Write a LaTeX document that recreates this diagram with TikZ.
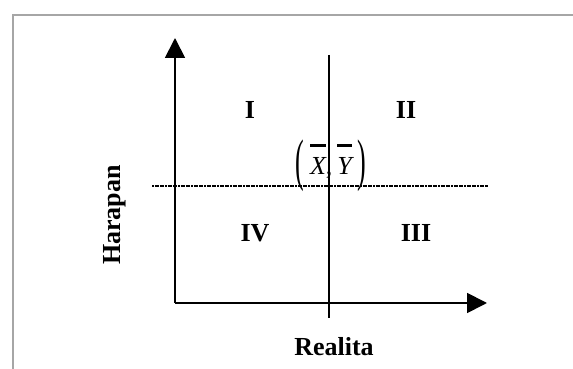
\documentclass[tikz,border=0pt]{standalone}
\usepackage{fontspec}
\usepackage{graphicx}
\setmainfont{Liberation Serif}
\usetikzlibrary{arrows.meta}
\newcommand\mybar[1]{\vbox{\hrule height 2.6pt\kern 11pt\hbox{#1}}}
\newcommand\tallparen[1]{\raisebox{-4.5pt}{\scalebox{1}[2.2]{#1}}}
\begin{document}
\begin{tikzpicture}[x=1pt,y=1pt,
  lbl/.style={font=\fontsize{26}{30}\selectfont\bfseries, inner sep=0pt},
  mlbl/.style={font=\fontsize{26}{30}\selectfont, inner sep=0pt},
  axis/.style={line width=1.8pt, -{Triangle[length=20pt,width=20pt]}},
  mid/.style={line width=1.2pt},
  dotline/.style={line width=2pt, dash pattern=on 2pt off 0.6pt}]
\useasboundingbox (0,0) rectangle (573,369);
\fill[white] (0,0) rectangle (573,369);
% frame
\draw[gray!70, line width=1.8pt] (13,0) -- (13,353.6) -- (573,353.6);
% axes
\coordinate (O) at (175,66);
\coordinate (ytip) at (175,331);
\coordinate (xtip) at (487,66);
\draw[axis] (O) -- (ytip);
\draw[axis] (O) -- (xtip);
% mean lines
\coordinate (vtop) at (329,314);
\coordinate (vbot) at (329,51);
\draw[mid] (vtop) -- (vbot);
\coordinate (hl) at (152,183);
\coordinate (hr) at (488,183);
\draw[dotline] (hl) -- (hr);
% quadrant labels
\node[lbl] (q1) at (250,259) {I};
\node[lbl] (q2) at (406,259) {II};
\node[lbl] (q4) at (255,136) {IV};
\node[lbl] (q3) at (416,136) {III};
% mean point
\node[mlbl, anchor=base] (m) at (331,194) {\tallparen{(}\kern6pt\mybar{\itshape X},\kern5pt\mybar{\itshape Y}\kern6pt\tallparen{)}};
% axis titles
\node[lbl, rotate=90] (h) at (115,154) {Harapan};
\node[lbl] (r) at (334,22) {Realita};
\end{tikzpicture}
\end{document}
